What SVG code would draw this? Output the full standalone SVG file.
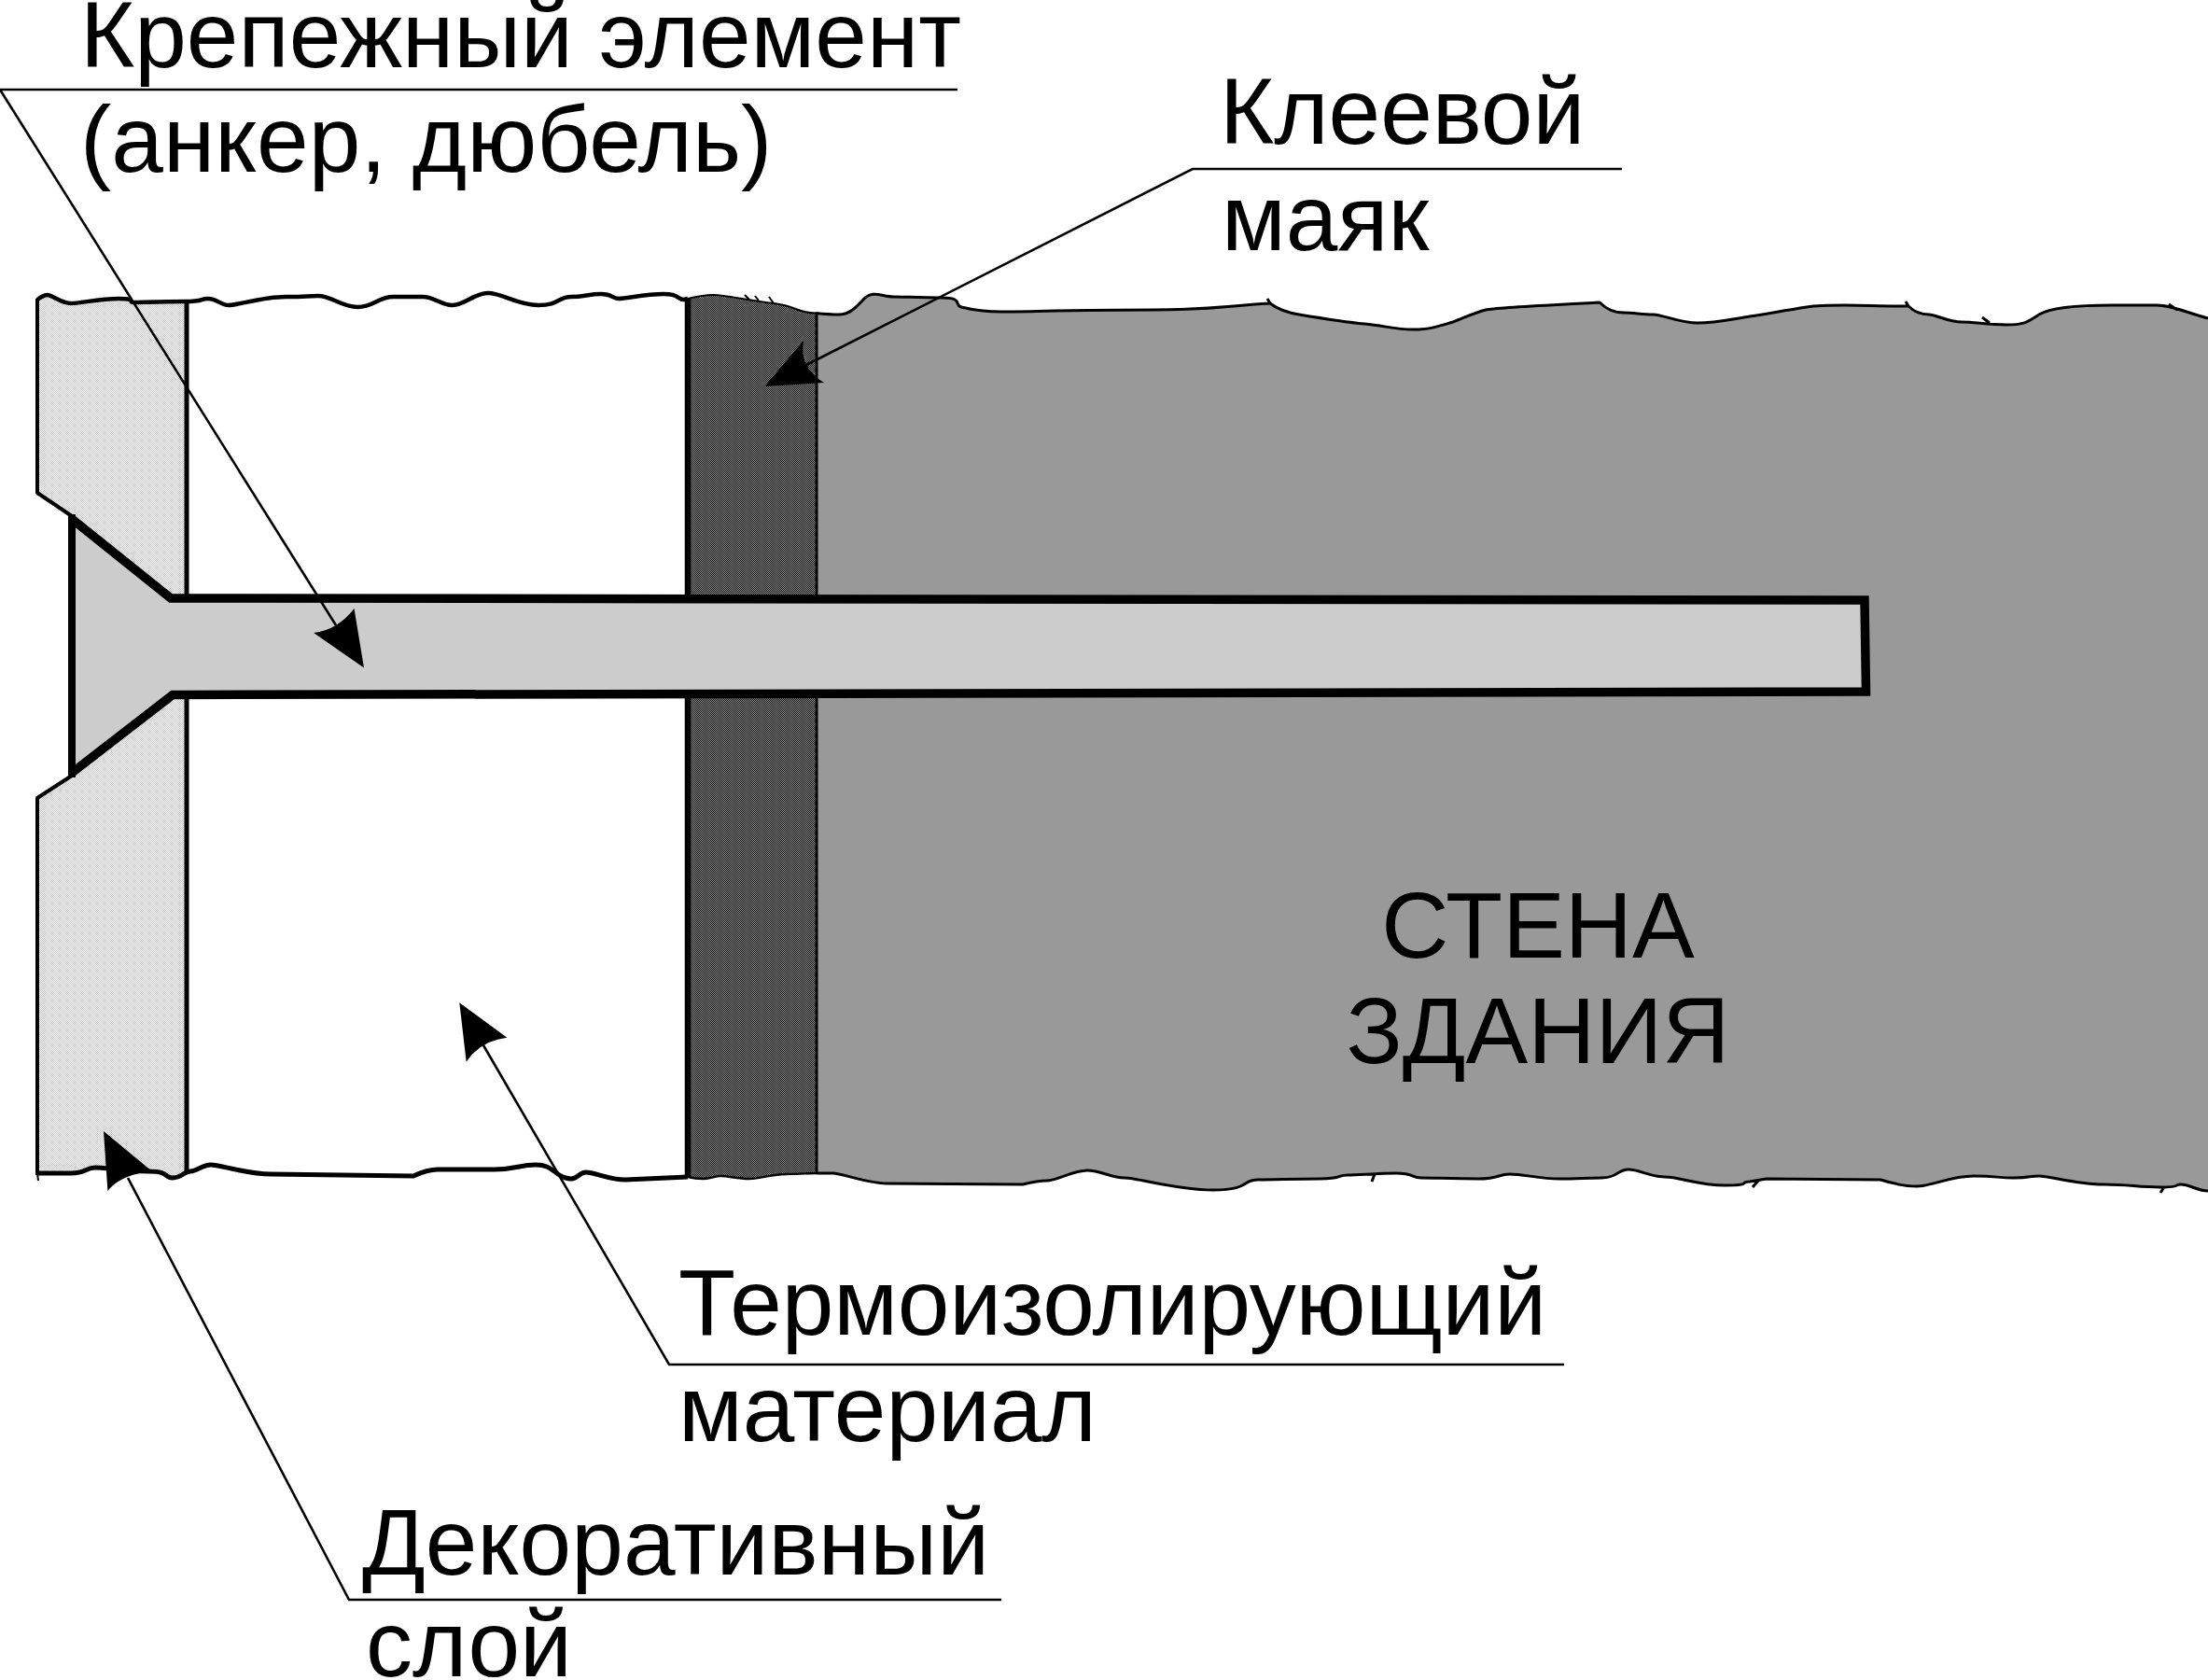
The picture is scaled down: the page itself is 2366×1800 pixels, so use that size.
<svg xmlns="http://www.w3.org/2000/svg" width="2366" height="1800" viewBox="0 0 2366 1800">
<style>
text{font-family:"Liberation Sans",Arial,sans-serif;font-size:100px;fill:#000}
.ln{fill:none;stroke:#000;stroke-linejoin:round}
.leader{fill:none;stroke:#000;stroke-width:2.6}
.cover{fill:#fff;stroke:none}
.head{fill:#000;stroke:none}
</style>
<defs>
<pattern id="lt" width="2" height="2" patternUnits="userSpaceOnUse" shape-rendering="crispEdges"><rect width="2" height="2" fill="#fff"/><rect width="1" height="1" fill="#c4c4c4"/><rect x="1" y="1" width="1" height="1" fill="#c4c4c4"/></pattern>
<pattern id="dk" width="2" height="2" patternUnits="userSpaceOnUse" shape-rendering="crispEdges"><rect width="2" height="2" fill="#000"/><rect width="1" height="1" fill="#999"/><rect x="1" y="1" width="1" height="1" fill="#999"/></pattern>
</defs>
<rect width="2366" height="1800" fill="#fff"/>
<g id="wall"><rect x="875" y="300" width="1491" height="990" fill="#999"/></g>
<g id="adhesive"><rect x="737" y="300" width="138" height="990" fill="url(#dk)"/></g>
<g id="decor"><path d="M40 300V528L77 553L183 641H200V300ZM40 1290V855L77 831L185 745H200V1290Z" fill="url(#lt)"/></g>
<g id="covers">
<path class="cover" d="M40 321S47 316 51 316S66 325 76 325S107 320 127 320S137 324 143 324S176 323 198 323S213 320 223 320S236 327 245 327S282 318 306 318S327 317 341 317S366 329 383 329S406 318 421 318S440 318 453 318S472 327 485 327S508 314 523 314S555 327 577 327S598 318 612 318S631 315 644 315S655 320 663 320S692 315 711 315S724 321 733 321L737 320S755 316 765 316S803 322 829 325S852 335 874 335.5S889 337 899 337S915 332 925 321S945 318 957 318S985 319 1009 319S1022 327 1030 329S1056 334 1074 334S1170 332 1235 332S1310 328 1361 325C1370 332 1380 335 1392 337S1440 345 1462 347S1495 353 1514 353S1540 350 1557 345C1570 340 1580 335 1592 332S1660 327 1714 324C1722 332 1730 335 1740 335S1760 337 1771 337S1800 346 1819 346S1855 342 1875 339S1910 333 1936 329S2000 328 2045 328C2052 335 2060 337 2067 337S2088 345 2102 345S2130 348 2150 348S2172 345 2185 337S2230 327 2263 327S2295 327 2311 327S2340 334 2366 341V0H0V321Z"/>
<path class="cover" d="M40 1257S60 1257 76 1257S92 1251 102 1251S135 1255 159 1255S175 1262 185 1262S197 1255 204 1255S217 1248 226 1248S265 1258 290 1258L443 1260S458 1253 469 1253S505 1253 529 1253S556 1248 574 1248S593 1258 606 1262S619 1256 628 1256S653 1264 670 1264L737 1261S745 1263 753 1263S765 1260 773 1260S790 1263 803 1263S826 1258 842 1258S865 1257 875 1257S885 1257 893 1257S930 1268 950 1268L1096 1269S1112 1265 1122 1265S1150 1254 1165 1254S1190 1262 1205 1262S1260 1275 1300 1275S1330 1264 1348 1264S1388 1263 1414 1263S1432 1259 1444 1259S1476 1257 1496 1257S1512 1262 1523 1262S1560 1263 1584 1263S1604 1258 1618 1258S1650 1263 1671 1263S1698 1262 1716 1262S1733 1253 1745 1253S1768 1261 1784 1261S1819 1270 1849 1270S1863 1266 1875 1266L1893 1263L2015 1264S2038 1271 2054 1271S2090 1260 2115 1260S2140 1262 2158 1262S2174 1260 2185 1260S2226 1269 2254 1269S2290 1272 2315 1272S2328 1269 2337 1269S2355 1276 2366 1276V1800H0V1257Z"/>
</g>
<g id="outlines">
<path class="ln" stroke-width="4.5" d="M40 321S47 316 51 316S66 325 76 325S107 320 127 320S137 324 143 324S176 323 198 323S213 320 223 320S236 327 245 327S282 318 306 318S327 317 341 317S366 329 383 329S406 318 421 318S440 318 453 318S472 327 485 327S508 314 523 314S555 327 577 327S598 318 612 318S631 315 644 315S655 320 663 320S692 315 711 315S724 321 733 321L737 320"/>
<path class="ln" stroke-width="2" d="M737 320S755 316 765 316S803 322 829 325S852 335 874 335.5M798 316L803 321M809 317L813 322M824 318L829 325"/>
<path class="ln" stroke-width="3" d="M874 335.5S889 337 899 337S915 332 925 321S945 318 957 318S985 319 1009 319S1022 327 1030 329S1056 334 1074 334S1170 332 1235 332S1310 328 1361 325L1358 320M1361 325C1370 332 1380 335 1392 337S1440 345 1462 347S1495 353 1514 353S1540 350 1557 345C1570 340 1580 335 1592 332S1660 327 1714 324C1722 332 1730 335 1740 335S1760 337 1771 337S1800 346 1819 346S1855 342 1875 339S1910 333 1936 329S2000 328 2045 328L2042 323M2045 328C2052 335 2060 337 2067 337S2088 345 2102 345S2130 348 2150 348S2172 345 2185 337S2230 327 2263 327S2295 327 2311 327S2340 334 2366 341M2124 340L2132 346M2324 326L2333 332"/>
<path class="ln" stroke-width="5" d="M40 1257S60 1257 76 1257S92 1251 102 1251S135 1255 159 1255S175 1262 185 1262S197 1255 204 1255S217 1248 226 1248S265 1258 290 1258L443 1260S458 1253 469 1253S505 1253 529 1253S556 1248 574 1248S593 1258 606 1262S619 1256 628 1256S653 1264 670 1264L737 1261"/>
<path class="ln" stroke-width="2.4" d="M737 1261S745 1263 753 1263S765 1260 773 1260S790 1263 803 1263S826 1258 842 1258S865 1257 875 1257"/>
<path class="ln" stroke-width="3" d="M875 1257S885 1257 893 1257S930 1268 950 1268L1096 1269S1112 1265 1122 1265S1150 1254 1165 1254S1190 1262 1205 1262S1260 1275 1300 1275S1330 1264 1348 1264S1388 1263 1414 1263S1432 1259 1444 1259S1476 1257 1496 1257S1512 1262 1523 1262S1560 1263 1584 1263S1604 1258 1618 1258S1650 1263 1671 1263S1698 1262 1716 1262S1733 1253 1745 1253S1768 1261 1784 1261S1819 1270 1849 1270S1863 1266 1875 1266L1893 1263L2015 1264S2038 1271 2054 1271S2090 1260 2115 1260S2140 1262 2158 1262S2174 1260 2185 1260S2226 1269 2254 1269S2290 1272 2315 1272S2328 1269 2337 1269S2355 1276 2366 1276M1473 1258L1470 1266M1885 1264L1878 1272M2319 1272L2315 1278"/>
<path class="ln" stroke-width="4" d="M40 320V528L77 553M77 831L40 855V1259"/>
<path class="ln" stroke-width="2" d="M40 1257L41 1265"/>
<path class="ln" stroke-width="5" d="M200 322V1256"/>
<path class="ln" stroke-width="6.5" d="M737 320V1261"/>
<path class="ln" stroke-width="3" d="M875 335V1257"/>
</g>
<g id="anchor">
<path d="M77 556L183 641L1998 643L1999.5 741L185 744.5L77 828" fill="#ccc" stroke="#000" stroke-width="9.5" stroke-linejoin="miter"/>
<path d="M77 551V833" fill="none" stroke="#000" stroke-width="8"/>
</g>
<g id="connectors">
<path class="leader" d="M1026 96H0L360 670"/>
<path class="head" d="M390 715.5L379.5 652Q362 675 336 678Z"/>
<path class="leader" d="M1738 181H1278L864 391"/>
<path class="head" d="M819.5 414L861 365Q856 394 883 410Z"/>
<path class="leader" d="M1676 1462H717L518 1120"/>
<path class="head" d="M492.3 1074.3L543.3 1111.7Q515 1115 499.7 1137.7Z"/>
<path class="leader" d="M1073 1714H374L137 1262"/>
<path class="head" d="M111 1212L163 1255Q129 1258.5 115.4 1276Z"/>
</g>
<g id="labels">
<text x="86" y="72">Крепежный элемент</text>
<text x="86" y="184">(анкер, дюбель)</text>
<text x="1307" y="154">Клеевой</text>
<text x="1309" y="268">маяк</text>
<text x="1648" y="1026" text-anchor="middle">СТЕНА</text>
<text x="1648" y="1139" text-anchor="middle">ЗДАНИЯ</text>
<text x="727" y="1430" textLength="930" lengthAdjust="spacing">Термоизолирующий</text>
<text x="727" y="1544">материал</text>
<text x="388" y="1687" textLength="672" lengthAdjust="spacing">Декоративный</text>
<text x="392" y="1796">слой</text>
</g>
</svg>
